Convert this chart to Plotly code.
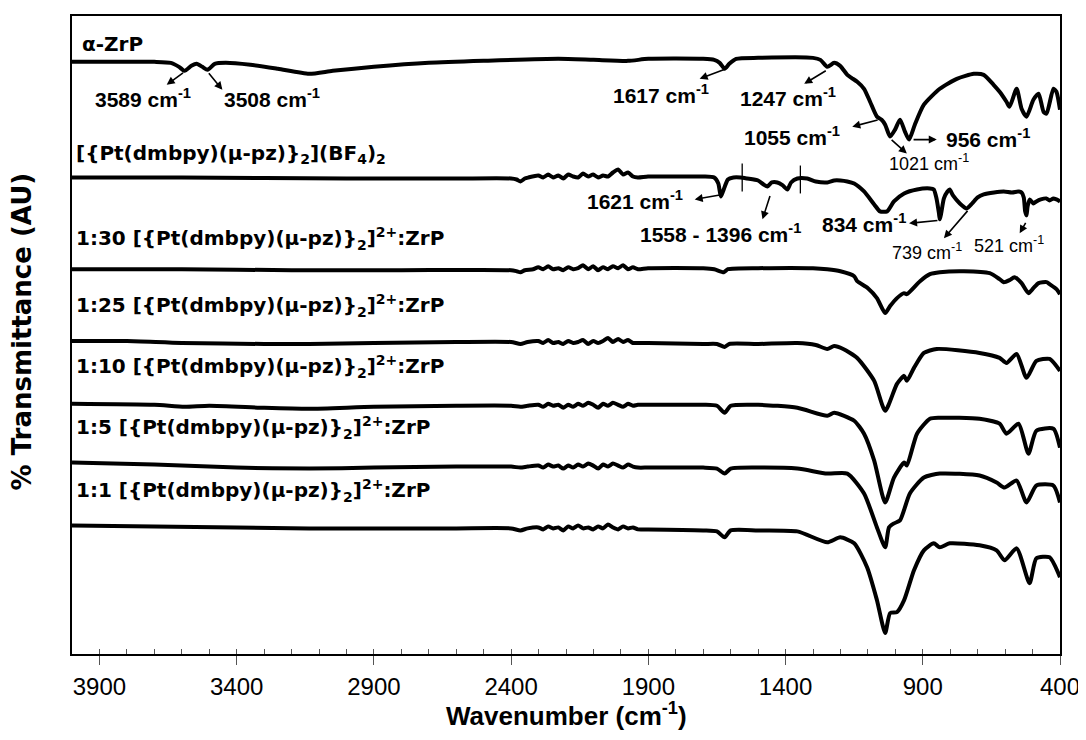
import plotly.graph_objects as go

# ---------------- data (wavenumber in cm-1, transmittance in arbitrary units) ----------------
NOISE_WN = [2301, 2283, 2265, 2247, 2228, 2210, 2192, 2174, 2156, 2138, 2119,
            2101, 2083, 2065, 2047, 2029, 2010, 1992, 1974, 1956, 1938]

WN_ZRP = [4000, 3700, 3640, 3610, 3590, 3565, 3546, 3525, 3506, 3480,
          3440, 3350, 3250, 3136, 3050, 2900, 2700, 2500, 2228, 2100,
          1974, 1900, 1700, 1660, 1640, 1622, 1605, 1580, 1500, 1300,
          1273, 1248, 1223, 1201, 1175, 1160, 1139, 1114, 1092, 1067,
          1050, 1037, 1019, 1001, 983, 965, 950, 929, 896, 838,
          776, 714, 678, 642, 620, 595, 584, 558, 540, 522,
          497, 478, 460, 449, 424, 413, 400]
T_ZRP = [594, 594, 593, 589, 585, 590, 592, 589, 586, 592,
         593, 591, 587, 582, 585, 589, 593, 595, 597, 596,
         595, 597, 597, 596, 593, 587, 592, 597, 598, 598,
         596, 589, 593, 590, 581, 578, 574, 567, 554, 539,
         536, 531, 519, 526, 536, 524, 516, 531, 551, 567,
         577, 582, 581, 571, 564, 554, 549, 567, 547, 539,
         556, 562, 544, 542, 567, 564, 546]

WN_BF4 = [4000, 3600, 3000, 2600, 2400, 2380, 2366, 2350, 2337] + NOISE_WN + \
         [1901, 1800, 1700, 1660, 1645, 1636, 1628, 1610, 1590, 1564,
          1540, 1500, 1480, 1466, 1450, 1430, 1410, 1393, 1380, 1357,
          1321, 1290, 1248, 1223, 1200, 1175, 1150, 1114, 1077, 1056,
          1030, 1005, 968, 921, 874, 860, 850, 841, 838, 833,
          823, 810, 802,
          790, 765, 740, 720, 700, 678, 640, 605, 575, 550,
          540, 532, 527, 522, 518, 510, 497, 486, 470, 450,
          438, 424, 413, 400]
T_BF4 = [478, 478, 477, 477, 477, 476, 474, 477, 478,
         480, 478, 481, 478, 480, 477, 481, 479, 478, 482, 479,
         481, 478, 480, 479, 483, 486, 481, 483, 479, 478,
         479, 479, 479, 478, 472, 459, 464, 476, 478, 478,
         477, 475, 471, 469, 473, 473, 470, 466, 473, 477,
         477, 474, 473, 475, 475, 474, 472, 464, 451, 444,
         444, 454, 462, 466, 467, 466, 457, 442, 436, 442,
         457, 464, 466,
         460, 452, 447, 452, 458, 461, 463, 464, 463, 464,
         463, 458, 444, 440, 449, 456, 452, 454, 456, 457,
         455, 457, 456, 454]

WN_R30 = [4000, 3600, 3200, 2800, 2400, 2380, 2366, 2350, 2320] + NOISE_WN + \
         [1901, 1700, 1660, 1625, 1610, 1500, 1300, 1248, 1200, 1150,
          1139, 1100, 1067, 1037, 1019, 994, 968, 958, 910, 874,
          838, 750, 656, 620, 605, 584, 566, 540, 515, 497,
          478, 449, 438, 413, 400]
T_R30 = [386, 386, 385, 385, 385, 384, 383, 385, 386,
         388, 386, 389, 386, 387, 385, 388, 386, 387, 390, 386,
         389, 385, 388, 386, 389, 387, 390, 386, 388, 386,
         387, 387, 386, 383, 386, 387, 387, 386, 384, 379,
         374, 367, 357, 342, 349, 357, 362, 361, 374, 381,
         383, 384, 382, 376, 373, 375, 378, 372, 362, 367,
         372, 373, 371, 366, 361]

WN_R25 = [4000, 3800, 3600, 3300, 3136, 2900, 2600, 2400, 2366, 2340] + NOISE_WN + \
         [1901, 1700, 1650, 1622, 1605, 1500, 1357, 1290, 1248, 1223,
          1190, 1139, 1077, 1037, 994, 968, 958, 932, 896, 849,
          693, 620, 595, 558, 522, 486, 438, 400]
T_R25 = [314, 314, 312, 311, 311, 312, 313, 313, 311, 313,
         314, 312, 315, 312, 313, 311, 314, 312, 313, 315, 311,
         314, 312, 314, 317, 313, 316, 313, 315, 312, 312,
         312, 311, 311, 308, 311, 311, 312, 310, 306, 309,
         306, 297, 274, 244, 271, 279, 274, 287, 302, 306,
         302, 297, 292, 301, 277, 294, 296, 284]

WN_R10 = [4000, 3700, 3590, 3500, 3300, 3136, 2900, 2600, 2400, 2366, 2340] + NOISE_WN + \
         [1901, 1700, 1650, 1622, 1600, 1500, 1357, 1248, 1223, 1150,
          1114, 1077, 1037, 1005, 968, 958, 921, 874, 838, 693,
          620, 595, 551, 515, 486, 424, 400]
T_R10 = [251, 250, 248, 249, 247, 246, 248, 249, 249, 248, 249,
         250, 248, 251, 249, 250, 247, 250, 248, 251, 249, 252,
         250, 247, 251, 249, 252, 250, 248, 251, 249, 250,
         250, 250, 249, 242, 249, 250, 247, 239, 242, 234,
         221, 194, 152, 177, 192, 189, 221, 236, 237, 236,
         231, 221, 231, 201, 224, 226, 207]

WN_R5 = [4000, 3700, 3400, 3136, 2900, 2600, 2400, 2366, 2340] + NOISE_WN + \
        [1901, 1700, 1650, 1622, 1600, 1500, 1357, 1248, 1175, 1114,
         1067, 1037, 1023, 1005, 983, 947, 896, 838, 693, 631,
         602, 558, 522, 486, 424, 400]
T_R5 = [192, 190, 187, 186, 187, 188, 188, 187, 188,
        189, 187, 190, 188, 189, 186, 189, 187, 190, 188, 191,
        189, 186, 190, 188, 191, 189, 187, 190, 188, 187,
        187, 187, 186, 181, 186, 187, 186, 181, 181, 161,
        127, 107, 127, 131, 134, 161, 177, 181, 179, 172,
        167, 174, 152, 169, 169, 152]

WN_R1 = [4000, 3700, 3400, 3136, 2900, 2600, 2400, 2366, 2340] + NOISE_WN + \
        [1901, 1700, 1650, 1622, 1600, 1500, 1357, 1248, 1201, 1150,
         1103, 1067, 1037, 1019, 994, 968, 932, 896, 860, 838,
         802, 693, 631, 602, 558, 511, 486, 438, 400]
T_R1 = [129, 128, 127, 126, 126, 126, 126, 124, 126,
        127, 125, 128, 126, 127, 124, 128, 126, 129, 126, 127,
        125, 128, 126, 130, 127, 125, 128, 126, 127, 125,
        125, 124, 123, 117, 124, 124, 123, 112, 117, 111,
        87, 54, 21, 41, 42, 54, 84, 104, 111, 107,
        111, 109, 104, 94, 106, 71, 96, 97, 77]

CPLX = "[{Pt(dmbpy)(\u03bc-pz)}<sub>2</sub>]"
SERIES_NAMES = ["\u03b1-ZrP",
                CPLX + "(BF<sub>4</sub>)<sub>2</sub>",
                "1:30 " + CPLX + "<sup>2+</sup>:ZrP",
                "1:25 " + CPLX + "<sup>2+</sup>:ZrP",
                "1:10 " + CPLX + "<sup>2+</sup>:ZrP",
                "1:5 " + CPLX + "<sup>2+</sup>:ZrP",
                "1:1 " + CPLX + "<sup>2+</sup>:ZrP"]
SERIES_WN = [WN_ZRP, WN_BF4, WN_R30, WN_R25, WN_R10, WN_R5, WN_R1]
SERIES_T = [T_ZRP, T_BF4, T_R30, T_R25, T_R10, T_R5, T_R1]
# label anchor (wavenumber, AU) for each series name
NAME_WN = [3971, 3993, 3993, 3993, 3993, 3993, 3993]
NAME_T = [612, 502, 417, 350, 288, 227, 164]

# peak labels: text, wavenumber (left edge), AU, bold
PEAK_TEXT = ["3589 cm<sup>-1</sup>", "3508 cm<sup>-1</sup>", "1617 cm<sup>-1</sup>",
             "1247 cm<sup>-1</sup>", "1055 cm<sup>-1</sup>", "956 cm<sup>-1</sup>",
             "1021 cm<sup>-1</sup>", "1621 cm<sup>-1</sup>", "1558 - 1396 cm<sup>-1</sup>",
             "834 cm<sup>-1</sup>", "739 cm<sup>-1</sup>", "521 cm<sup>-1</sup>"]
PEAK_WN = [3924, 3455, 2036, 1575, 1557, 823, 1030, 2130, 1938, 1273, 1019, 722]
PEAK_T = [558, 558, 562, 559, 520, 518, 493, 455, 422, 432, 404, 411]
PEAK_BOLD = [True, True, True, True, True, True, False, True, True, True, False, False]

# arrows: head (wn, AU) <- tail (wn, AU)
ARROW_HEAD_WN = [3655, 3452, 1713, 1332, 1157, 849, 958, 1731, 1484, 950, 823, 547]
ARROW_HEAD_T = [571, 566, 577, 572, 529, 516, 502, 456, 436, 432, 417, 422]
ARROW_TAIL_WN = [3590, 3506, 1618, 1248, 1059, 939, 1019, 1629, 1455, 841, 732, 522]
ARROW_TAIL_T = [584, 584, 587, 586, 536, 516, 517, 461, 461, 435, 446, 434]

# range markers on the [Pt] spectrum
MARK_WN = [1558, 1346]
MARK_T_LOW = [464, 462]
MARK_T_HIGH = [492, 490]

TICK_WN = [3900, 3400, 2900, 2400, 1900, 1400, 900, 400]

ARIAL = "Liberation Sans, Arial, sans-serif"
DEJA = "DejaVu Sans, sans-serif"

fig = go.Figure()
for wn, t, nm in zip(SERIES_WN, SERIES_T, SERIES_NAMES):
    fig.add_trace(go.Scatter(x=wn, y=t, mode="lines", name=nm, showlegend=False,
                             line=dict(color="black", width=4, shape="spline", smoothing=0.6),
                             hoverinfo="skip"))
# invisible trace to carry the overlay axis for inner ticks
fig.add_trace(go.Scatter(x=WN_ZRP, y=T_ZRP, xaxis="x2", mode="lines", opacity=0,
                         showlegend=False, hoverinfo="skip", line=dict(width=0)))

for wl, lo, hi in zip(MARK_WN, MARK_T_LOW, MARK_T_HIGH):
    fig.add_shape(type="line", xref="x", yref="y", x0=wl, x1=wl, y0=lo, y1=hi,
                  line=dict(color="black", width=1.3))

ann = []
for nm, x, y in zip(SERIES_NAMES, NAME_WN, NAME_T):
    ann.append(dict(x=x, y=y, xref="x", yref="y", text=nm, showarrow=False,
                    xanchor="left", yanchor="middle",
                    font=dict(family=DEJA, size=20, color="black", weight="bold")))
for tx, x, y, b in zip(PEAK_TEXT, PEAK_WN, PEAK_T, PEAK_BOLD):
    ann.append(dict(x=x, y=y, xref="x", yref="y", text=tx, showarrow=False,
                    xanchor="left", yanchor="middle",
                    font=dict(family=ARIAL, size=21 if b else 18, color="black",
                              weight="bold" if b else "normal")))
for hx, hy, tx, ty in zip(ARROW_HEAD_WN, ARROW_HEAD_T, ARROW_TAIL_WN, ARROW_TAIL_T):
    ann.append(dict(x=hx, y=hy, ax=tx, ay=ty, xref="x", yref="y", axref="x", ayref="y",
                    text="", showarrow=True, arrowhead=2, arrowsize=1, arrowwidth=1.6,
                    arrowcolor="black", standoff=0, startstandoff=0))
ann.append(dict(x=0.5, y=0, xref="paper", yref="paper", yshift=-60,
                text="Wavenumber (cm<sup>-1</sup>)", showarrow=False,
                xanchor="center", yanchor="middle",
                font=dict(family=ARIAL, size=26, color="black", weight="bold")))
ann.append(dict(x=-0.0504, y=0.506, xref="paper", yref="paper", textangle=-90,
                text="% Transmittance (AU)", showarrow=False,
                xanchor="center", yanchor="middle",
                font=dict(family=DEJA, size=26, color="black", weight="bold")))

# the page body has an 8px default margin, so the figure is sized to fit the window
fig.update_layout(
    width=1078, height=732,
    margin=dict(l=64, r=22, t=6, b=86),
    paper_bgcolor="white", plot_bgcolor="white",
    showlegend=False,
    annotations=ann,
    xaxis=dict(range=[4000, 400], tickmode="array", tickvals=TICK_WN,
               ticktext=[str(v) for v in TICK_WN],
               ticks="outside", ticklen=9, tickwidth=1.2, tickcolor="#555",
               tickfont=dict(family=ARIAL, size=24, color="black"),
               ticklabelstandoff=1,
               showline=True, linecolor="black", linewidth=1.6, mirror=True,
               showgrid=False, zeroline=False),
    xaxis2=dict(range=[4000, 400], overlaying="x", anchor="y", side="bottom",
                tickmode="linear", tick0=400, dtick=100,
                ticks="inside", ticklen=5, tickwidth=1.2, tickcolor="#555",
                showticklabels=False, showline=False, showgrid=False, zeroline=False),
    yaxis=dict(range=[0, 640], showticklabels=False, ticks="",
               showline=True, linecolor="black", linewidth=1.6, mirror=True,
               showgrid=False, zeroline=False),
)

fig.write_html("out.html")
